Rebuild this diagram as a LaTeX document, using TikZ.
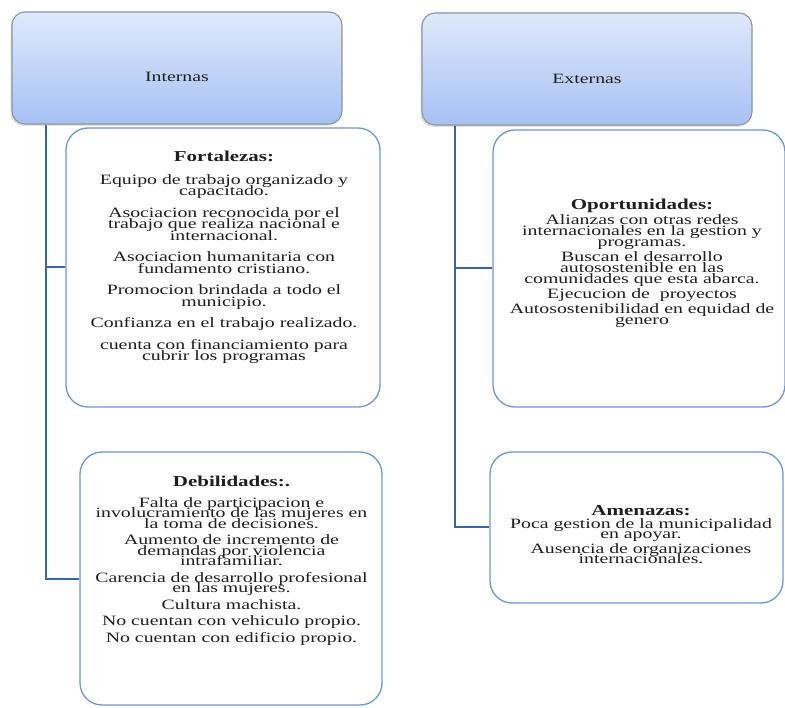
\documentclass[tikz,border=0pt]{standalone}
\usepackage{fontspec}
\setmainfont{Liberation Serif}
\usetikzlibrary{shadows}
\definecolor{conncol}{HTML}{3C64A4}
\definecolor{bxline}{HTML}{6D97D3}
\definecolor{hdtop}{HTML}{DFE9FB}
\definecolor{hdbot}{HTML}{A6C1F4}
\definecolor{hdline}{HTML}{8F959E}
\definecolor{txt}{HTML}{1E1E1E}
\newcommand{\sqtext}[2]{\scalebox{1}[0.72]{\begin{minipage}{330pt}\centering\lineskiplimit=-40pt\fontsize{19.8}{#1}\selectfont #2\end{minipage}}}
\newcommand{\ttl}[1]{{\fontsize{21}{15}\selectfont\bfseries #1}}
\begin{document}
\begin{tikzpicture}[x=1pt,y=-1pt,
  hdr/.style={draw=hdline, line width=1.1pt, rounded corners=13pt, top color=hdtop, bottom color=hdbot,
    drop shadow={shadow xshift=-1.5pt, shadow yshift=-2pt, opacity=0.25}, inner sep=0pt},
  card/.style={draw=bxline, line width=1.3pt, rounded corners=22pt, fill=white, inner sep=0pt},
  cn/.style={draw=conncol, line width=2pt},
  lbl/.style={inner sep=0pt, text=txt}]
\useasboundingbox (0,0) rectangle (785,708);
\fill[white] (0,0) rectangle (785,708);
% boxes
\node[card, minimum width=314pt, minimum height=279pt] (fort) at (223,267.5) {};
\node[card, minimum width=302pt, minimum height=253pt] (deb) at (231,578.5) {};
\node[card, minimum width=292pt, minimum height=277pt] (opo) at (639,268.5) {};
\node[card, minimum width=293pt, minimum height=151pt] (ame) at (636.5,527.5) {};
\node[hdr, minimum width=330pt, minimum height=112pt] (hL) at (177,68) {};
\node[hdr, minimum width=330pt, minimum height=112pt] (hR) at (587,69) {};
% connectors
\coordinate (tL) at (46,0);
\coordinate (tR) at (455,0);
\draw[cn] (hL.south -| tL) |- (deb.west);
\draw[cn] (tL |- fort.west) -- (fort.west);
\draw[cn] (hR.south -| tR) |- (ame.west);
\draw[cn] (tR |- opo.west) -- (opo.west);
% header texts
\node[lbl, yshift=-9pt] (hLt) at (hL.center) {\scalebox{1}[0.72]{\fontsize{19.8}{20}\selectfont Internas}};
\node[lbl, yshift=-10pt] (hRt) at (hR.center) {\scalebox{1}[0.72]{\fontsize{19.8}{20}\selectfont Externas}};
% card texts
\node[lbl, anchor=north] (fortt) at (224,150.5) {\sqtext{16}{\ttl{Fortalezas:}\\[16pt]
Equipo de trabajo organizado y\\ capacitado.\\[13.9pt]
Asociacion reconocida por el\\ trabajo que realiza nacional e\\ internacional.\\[13.9pt]
Asociacion humanitaria con\\ fundamento cristiano.\\[13.9pt]
Promocion brindada a todo el\\ municipio.\\[13.9pt]
Confianza en el trabajo realizado.\\[13.9pt]
cuenta con financiamiento para\\ cubrir los programas}};
\node[lbl, anchor=north] (debt) at (231.5,475.5) {\sqtext{14.6}{\ttl{Debilidades:.}\\[14.6pt]
Falta de participacion e\\ involucramiento de las mujeres en\\ la toma de decisiones.\\[8.3pt]
Aumento de incremento de\\ demandas por violencia\\ intrafamiliar.\\[8.3pt]
Carencia de desarrollo profesional\\ en las mujeres.\\[8.3pt]
Cultura machista.\\[8.3pt]
No cuentan con vehiculo propio.\\[8.3pt]
No cuentan con edificio propio.}};
\node[lbl, anchor=north] (opot) at (642,198.5) {\sqtext{15.3}{\ttl{Oportunidades:}\\[5.5pt]
Alianzas con otras redes\\ internacionales en la gestion y\\ programas.\\[5.5pt]
Buscan el desarrollo\\ autosostenible en las\\ comunidades que esta abarca.\\[5.5pt]
Ejecucion de \ proyectos\\[5.5pt]
Autosostenibilidad en equidad de\\ genero}};
\node[lbl, anchor=north] (amet) at (641,505.5) {\sqtext{13.9}{\ttl{Amenazas:}\\[4.2pt]
Poca gestion de la municipalidad\\ en apoyar.\\[7pt]
Ausencia de organizaciones\\ internacionales.}};
\end{tikzpicture}
\end{document}
